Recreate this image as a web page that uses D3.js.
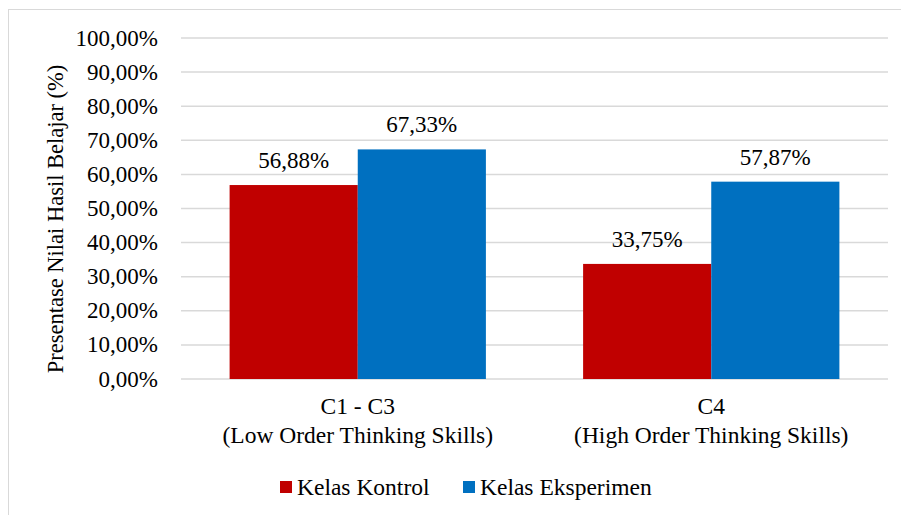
<!DOCTYPE html>
<html>
<head>
<meta charset="utf-8">
<script src="https://cdn.jsdelivr.net/npm/d3@7"></script>
<style>
  body { margin: 0; background: #fff; }
  text { font-family: "Liberation Serif", "Times New Roman", serif; fill: #000; }
</style>
</head>
<body>
<div id="chart"></div>
<script>
const categories = ['C1 - C3|(Low Order Thinking Skills)', 'C4|(High Order Thinking Skills)'];
const seriesNames = ['Kelas Kontrol', 'Kelas Eksperimen'];
const kontrol = [56.88, 33.75];
const eksperimen = [67.33, 57.87];
const yTicks = [0, 10, 20, 30, 40, 50, 60, 70, 80, 90, 100];
const colors = ['#C00000', '#0070C0'];

const width = 901, height = 515;
const margin = { top: 38, right: 13, bottom: 136, left: 181 };

const svg = d3.select('#chart').append('svg')
    .attr('width', width)
    .attr('height', height);

// chart area border
svg.append('rect')
    .attr('x', 8.5).attr('y', 9.5)
    .attr('width', 920).attr('height', 520)
    .attr('fill', 'none')
    .attr('stroke', '#D9D9D9')
    .attr('stroke-width', 1);

const x0 = d3.scaleBand()
    .domain(categories)
    .range([margin.left, width - margin.right])
    .paddingInner(0.275)
    .paddingOuter(0.1375);

const x1 = d3.scaleBand()
    .domain(seriesNames)
    .range([0, x0.bandwidth()]);

const y = d3.scaleLinear()
    .domain([0, 100])
    .range([height - margin.bottom, margin.top]);

const fmt = v => v.toFixed(2).replace('.', ',') + '%';

// gridlines
svg.append('g')
    .selectAll('line')
    .data(yTicks)
    .enter().append('line')
    .attr('x1', margin.left)
    .attr('x2', width - margin.right)
    .attr('y1', d => y(d))
    .attr('y2', d => y(d))
    .attr('stroke', '#D9D9D9')
    .attr('stroke-width', 1.5);

// y tick labels
svg.append('g')
    .selectAll('text')
    .data(yTicks)
    .enter().append('text')
    .attr('x', 158)
    .attr('y', d => y(d))
    .attr('dy', '0.33em')
    .attr('text-anchor', 'end')
    .style('font-size', '23px')
    .text(d => fmt(d));

// y axis title
svg.append('text')
    .attr('transform', `translate(55, 219) rotate(-90)`)
    .attr('text-anchor', 'middle')
    .attr('dy', '0.35em')
    .style('font-size', '22.5px')
    .text('Presentase Nilai Hasil Belajar (%)');

const rows = categories.map((c, i) => ({
    cat: c,
    values: [
        { name: seriesNames[0], value: kontrol[i] },
        { name: seriesNames[1], value: eksperimen[i] }
    ]
}));

const groups = svg.append('g')
    .selectAll('g')
    .data(rows)
    .enter().append('g')
    .attr('transform', d => `translate(${x0(d.cat)},0)`);

groups.selectAll('rect')
    .data(d => d.values)
    .enter().append('rect')
    .attr('x', d => x1(d.name))
    .attr('width', x1.bandwidth())
    .attr('y', d => y(d.value))
    .attr('height', d => y(0) - y(d.value))
    .attr('fill', (d, i) => colors[i]);

groups.selectAll('text.lbl')
    .data(d => d.values)
    .enter().append('text')
    .attr('class', 'lbl')
    .attr('x', d => x1(d.name) + x1.bandwidth() / 2)
    .attr('y', d => y(d.value) - 17)
    .attr('text-anchor', 'middle')
    .style('font-size', '23px')
    .text(d => fmt(d.value));

// category labels
const catLabels = svg.append('g')
    .selectAll('text')
    .data(categories)
    .enter().append('text')
    .attr('x', d => x0(d) + x0.bandwidth() / 2)
    .attr('y', 414)
    .attr('text-anchor', 'middle')
    .style('font-size', '23.5px');

catLabels.selectAll('tspan')
    .data(d => d.split('|'))
    .enter().append('tspan')
    .attr('x', function() { return d3.select(this.parentNode).attr('x'); })
    .attr('dy', (d, i) => i === 0 ? 0 : 29)
    .text(d => d);

// legend
const legendX = [280, 463];
const legend = svg.append('g')
    .selectAll('g')
    .data(seriesNames)
    .enter().append('g')
    .attr('transform', (d, i) => `translate(${legendX[i]}, 487)`);

legend.append('rect')
    .attr('x', 0).attr('y', -6)
    .attr('width', 12).attr('height', 12)
    .attr('fill', (d, i) => colors[i]);

legend.append('text')
    .attr('x', 17)
    .attr('dy', '0.33em')
    .style('font-size', '23.5px')
    .text(d => d);
</script>
</body>
</html>
